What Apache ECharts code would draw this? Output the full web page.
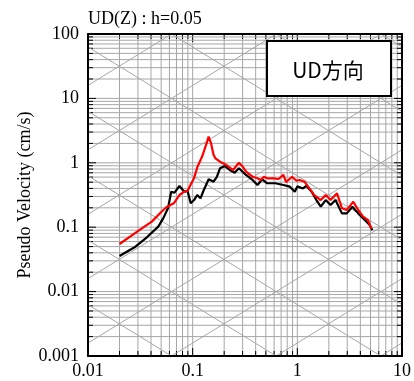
<!DOCTYPE html>
<html><head><meta charset="utf-8">
<script src="https://cdn.jsdelivr.net/npm/echarts@6/dist/echarts.min.js"></script>
<style>html,body{margin:0;padding:0;background:#fff}#c{width:414px;height:381px}</style>
</head><body><div id="c"></div>
<script>
// ---- data (period in s, pseudo velocity in cm/s) ----
const periodRed = [0.02, 0.0327, 0.0407, 0.0504, 0.056, 0.066, 0.0747, 0.0832, 0.0893, 0.0958, 0.103, 0.1106, 0.1231, 0.137, 0.142, 0.150, 0.158, 0.165, 0.1824, 0.2105, 0.2184, 0.2432, 0.2766, 0.3013, 0.3234, 0.3734, 0.4159, 0.4464, 0.479, 0.515, 0.594, 0.661, 0.736, 0.78, 0.891, 0.981, 1.05, 1.09, 1.17, 1.305, 1.452, 1.675, 1.866, 2.078, 2.395, 2.667, 2.97, 3.427, 3.815, 4.248, 4.729, 5.1];
const svRed = [0.0548, 0.096, 0.122, 0.174, 0.204, 0.235, 0.316, 0.356, 0.365, 0.46, 0.574, 0.85, 1.25, 2.1, 2.55, 2.0, 1.35, 1.17, 1.04, 0.924, 0.95, 0.773, 1.004, 0.869, 0.728, 0.608, 0.574, 0.541, 0.608, 0.574, 0.574, 0.56, 0.648, 0.50, 0.608, 0.527, 0.541, 0.509, 0.509, 0.402, 0.316, 0.264, 0.316, 0.264, 0.336, 0.197, 0.185, 0.249, 0.185, 0.146, 0.129, 0.095];
const periodBlack = [0.02, 0.0284, 0.0365, 0.0469, 0.0523, 0.0581, 0.0624, 0.0671, 0.0747, 0.0832, 0.0893, 0.0958, 0.1031, 0.1106, 0.1188, 0.1277, 0.1422, 0.1582, 0.1699, 0.1824, 0.2031, 0.2261, 0.2517, 0.2766, 0.3234, 0.3734, 0.4159, 0.4624, 0.515, 0.6156, 0.7362, 0.8486, 0.9462, 1.0, 1.13, 1.22, 1.37, 1.52, 1.675, 1.866, 2.078, 2.314, 2.667, 2.97, 3.36, 3.815, 4.41, 4.91, 5.2];
const svBlack = [0.0357, 0.0498, 0.0697, 0.102, 0.137, 0.197, 0.356, 0.343, 0.436, 0.356, 0.369, 0.235, 0.264, 0.316, 0.281, 0.378, 0.554, 0.509, 0.60, 0.822, 0.891, 0.773, 0.702, 0.822, 0.647, 0.541, 0.452, 0.554, 0.481, 0.481, 0.452, 0.426, 0.356, 0.43, 0.40, 0.44, 0.356, 0.264, 0.208, 0.264, 0.221, 0.264, 0.164, 0.164, 0.208, 0.164, 0.129, 0.108, 0.09];

const xTickLabels = ['0.01', '0.1', '1', '10'];
const yTickLabels = ['0.001', '0.01', '0.1', '1', '10', '100'];
const accelExponents = [-3, -2, -1, 0, 1, 2, 3, 4];   // log10 of acceleration lines
const dispExponents = [-5, -4, -3, -2, -1, 0, 1, 2];  // log10 of displacement lines
const titleText = 'UD(Z) : h=0.05';
const yName = 'Pseudo Velocity (cm/s)';
const legendText = 'UD方向';

// ---- build helpers ----
const xMin = 0.01, xMax = 10, yMin = 0.001, yMax = 100;
const lx0 = Math.log10(xMin), lx1 = Math.log10(xMax), ly0 = Math.log10(yMin), ly1 = Math.log10(yMax);
function logTicks(lo, hi) {
  const out = [];
  for (let e = lo; e < hi; e++) {
    for (let m = 1; m <= 9; m++) out.push([m * Math.pow(10, e), 1, m === 1 ? 1 : 0]);
  }
  out.push([Math.pow(10, hi), 1, 1]);
  return out;
}
const xTicks = logTicks(lx0, lx1);
const yTicks = logTicks(ly0, ly1).map(d => [1, d[0], d[2]]);

const L2PI = Math.log10(2 * Math.PI);
const diagSeries = [];
accelExponents.forEach(k => {
  const a = k - L2PI; // log Sv = log T + a
  const t0 = Math.max(lx0, ly0 - a), t1 = Math.min(lx1, ly1 - a);
  if (t0 < t1) diagSeries.push([[Math.pow(10, t0), Math.pow(10, t0 + a)], [Math.pow(10, t1), Math.pow(10, t1 + a)]]);
});
dispExponents.forEach(n => {
  const b = n + L2PI; // log Sv = -log T + b
  const t0 = Math.max(lx0, b - ly1), t1 = Math.min(lx1, b - ly0);
  if (t0 < t1) diagSeries.push([[Math.pow(10, t0), Math.pow(10, b - t0)], [Math.pow(10, t1), Math.pow(10, b - t1)]]);
});

const GRID_C = '#a6a6a6';
function vRender(params, api) {
  const cs = params.coordSys;
  const x = api.coord([api.value(0), 1])[0];
  const len = api.value(2) ? 8 : 5;
  const kids = [];
  if (x > cs.x + 1 && x < cs.x + cs.width - 1)
    kids.push({type: 'line', shape: {x1: x, y1: cs.y, x2: x, y2: cs.y + cs.height}, style: {stroke: GRID_C, lineWidth: 1}});
  kids.push({type: 'line', shape: {x1: x, y1: cs.y + cs.height, x2: x, y2: cs.y + cs.height - len}, style: {stroke: '#000', lineWidth: 1}});
  kids.push({type: 'line', shape: {x1: x, y1: cs.y, x2: x, y2: cs.y + len}, style: {stroke: '#000', lineWidth: 1}});
  return {type: 'group', children: kids};
}
function hRender(params, api) {
  const cs = params.coordSys;
  const y = api.coord([1, api.value(1)])[1];
  const len = api.value(2) ? 8 : 5;
  const kids = [];
  if (y > cs.y + 1 && y < cs.y + cs.height - 1)
    kids.push({type: 'line', shape: {x1: cs.x, y1: y, x2: cs.x + cs.width, y2: y}, style: {stroke: GRID_C, lineWidth: 1}});
  kids.push({type: 'line', shape: {x1: cs.x, y1: y, x2: cs.x + len, y2: y}, style: {stroke: '#000', lineWidth: 1}});
  kids.push({type: 'line', shape: {x1: cs.x + cs.width, y1: y, x2: cs.x + cs.width - len, y2: y}, style: {stroke: '#000', lineWidth: 1}});
  return {type: 'group', children: kids};
}
function matchLabel(list, v) {
  const lv = Math.log10(v);
  const f = list.find(s => Math.abs(Math.log10(parseFloat(s)) - lv) < 1e-6);
  return f === undefined ? '' : f;
}

const FONT = 'Liberation Serif';
const axisLineStyle = {show: true, lineStyle: {color: '#000', width: 2}};
const series = [
  {type: 'custom', renderItem: vRender, data: xTicks, silent: true, z: 1, animation: false},
  {type: 'custom', renderItem: hRender, data: yTicks, silent: true, z: 1, animation: false}
];
diagSeries.forEach(d => series.push({type: 'line', data: d, symbol: 'none', silent: true, z: 1,
  lineStyle: {color: GRID_C, width: 1}, animation: false}));
series.push({type: 'line', data: periodBlack.map((t, i) => [t, svBlack[i]]), symbol: 'none', z: 3,
  lineStyle: {color: '#000', width: 2.2}, animation: false});
series.push({type: 'line', data: periodRed.map((t, i) => [t, svRed[i]]), symbol: 'none', z: 4,
  lineStyle: {color: '#ff0000', width: 2.2}, animation: false});

const chart = echarts.init(document.getElementById('c'), null, {renderer: 'canvas'});
chart.setOption({
  backgroundColor: '#fff',
  animation: false,
  grid: {left: 88, top: 34, right: 4, bottom: 25, containLabel: false},
  xAxis: [
    {type: 'log', logBase: 10, min: xMin, max: xMax, z: 5, axisLine: axisLineStyle, axisTick: {show: false},
      splitLine: {show: false}, minorTick: {show: false},
      axisLabel: {margin: 6, fontFamily: FONT, fontSize: 18, color: '#000', formatter: v => matchLabel(xTickLabels, v)}},
    {type: 'log', logBase: 10, min: xMin, max: xMax, position: 'top', z: 5, axisLine: axisLineStyle,
      axisTick: {show: false}, axisLabel: {show: false}, splitLine: {show: false}}
  ],
  yAxis: [
    {type: 'log', logBase: 10, min: yMin, max: yMax, z: 5, axisLine: axisLineStyle, axisTick: {show: false},
      splitLine: {show: false},
      axisLabel: {margin: 9, fontFamily: FONT, fontSize: 18, color: '#000', formatter: v => matchLabel(yTickLabels, v)}},
    {type: 'log', logBase: 10, min: yMin, max: yMax, position: 'right', z: 5, axisLine: axisLineStyle,
      axisTick: {show: false}, axisLabel: {show: false}, splitLine: {show: false}}
  ],
  graphic: [
    {type: 'text', left: 88, top: 10, z: 10, style: {text: titleText, font: '18px "Liberation Serif"', fill: '#000'}},
    {type: 'text', x: 25, y: 195, rotation: Math.PI / 2, z: 10, style: {text: yName, font: '18px "Liberation Serif"',
      fill: '#000', align: 'center', verticalAlign: 'middle'}},
    {type: 'rect', left: 266, top: 40, z: 10, shape: {width: 124, height: 55},
      style: {fill: '#fff', stroke: '#000', lineWidth: 2}},
    {type: 'text', x: 328, y: 70, z: 11, style: {text: legendText, font: '21px "Noto Sans CJK JP"', fill: '#000',
      align: 'center', verticalAlign: 'middle'}}
  ],
  series: series
});
</script>
</body></html>
